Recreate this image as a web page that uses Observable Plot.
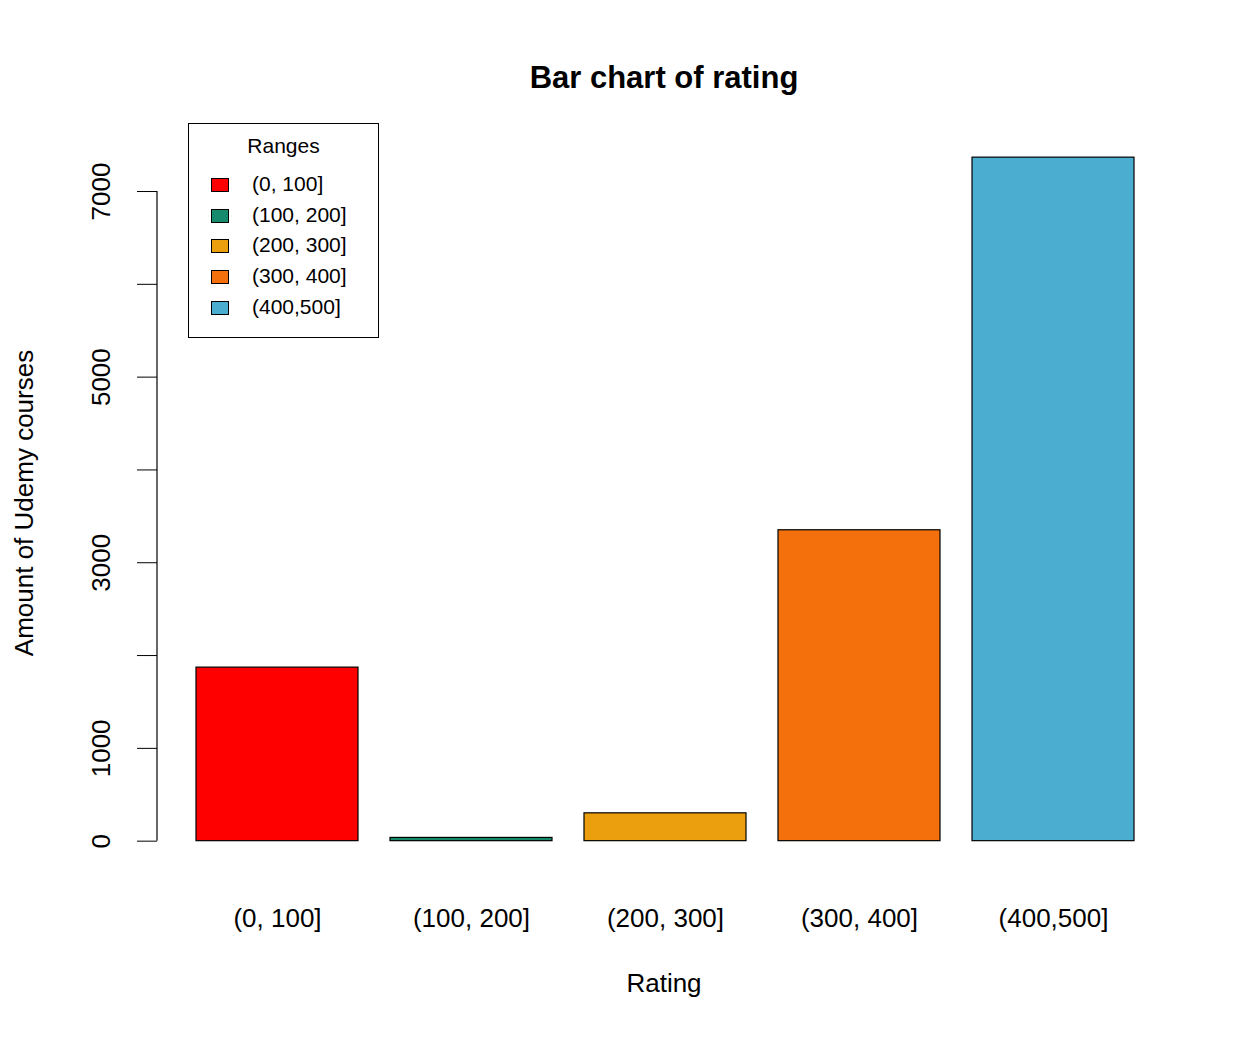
<!DOCTYPE html>
<html>
<head>
<meta charset="utf-8">
<script src="https://cdn.jsdelivr.net/npm/d3@7"></script>
<script src="https://cdn.jsdelivr.net/npm/@observablehq/plot@0.6"></script>
<style>
  body { margin: 0; background: #fff; font-family: "Liberation Sans", Arial, sans-serif; }
  #wrap { position: relative; width: 1252px; height: 1044px; }
  .abs { position: absolute; color: #000; }
  #legend { position: absolute; left: 188px; top: 123px; width: 191px; height: 215px; border: 1.3px solid #000; box-sizing: border-box; font-size: 21px; }
  #legend .t { position: absolute; left: 0; width: 100%; top: 10px; text-align: center; font-size: 21px; }
  #legend .sw { position: absolute; left: 22px; width: 18px; height: 14px; border: 1px solid #000; box-sizing: border-box; }
  #legend .lb { position: absolute; left: 63px; }
</style>
</head>
<body>
<div id="wrap">
  <div id="chart"></div>
  <div class="abs" style="left:0;width:1328px;top:60px;text-align:center;font-size:31px;font-weight:bold;">Bar chart of rating</div>
  <div class="abs" style="left:0;width:1328px;top:968px;text-align:center;font-size:26px;">Rating</div>
  <div class="abs" style="left:24px;top:503px;font-size:26px;transform:translate(-50%,-50%) rotate(-90deg);white-space:nowrap;">Amount of Udemy courses</div>
  <div id="legend"><div class="t">Ranges</div></div>
</div>
<script>
const ranges = ["(0, 100]", "(100, 200]", "(200, 300]", "(300, 400]", "(400,500]"];
const counts = [1870, 35, 300, 3350, 7365];
const colors = ["#fe0000", "#168a6c", "#eb9f0e", "#f3700c", "#4badcf"];
const yTicks = [0, 1000, 2000, 3000, 4000, 5000, 6000, 7000];
const yLabels = [0, 1000, 3000, 5000, 7000];

const bars = ranges.map((r, i) => ({ range: r, count: counts[i] }));

const plot = Plot.plot({
  width: 1252,
  height: 1044,
  marginLeft: 157,
  marginRight: 80,
  marginTop: 130,
  marginBottom: 176,
  style: { fontFamily: "Liberation Sans, Arial, sans-serif", fontSize: "26px", background: "#fff" },
  x: { domain: ranges, paddingInner: 1 / 6, paddingOuter: 0.193, label: null },
  y: { domain: [-294.5, 7657.5], label: null },
  color: { domain: ranges, range: colors },
  marks: [
    Plot.barY(bars, { x: "range", y: "count", fill: "range", stroke: "#000", strokeWidth: 1.2 }),
    Plot.axisX({ tickSize: 0, tickPadding: 40, fontSize: 26 }),
    Plot.axisY({
      ticks: yTicks,
      tickSize: 20,
      tickPadding: 28,
      tickRotate: -90,
      fontSize: 26,
      tickFormat: (d) => (yLabels.includes(d) ? String(d) : "")
    })
  ]
});
document.getElementById("chart").appendChild(plot);

// axis line from 0 to 7000 like R's axis()
const y = plot.scale("y");
d3.select(plot).append("line")
  .attr("x1", 157).attr("x2", 157)
  .attr("y1", y.apply(0)).attr("y2", y.apply(7000))
  .attr("stroke", "#000").attr("stroke-width", 1.2);

const legend = document.getElementById("legend");
ranges.forEach((r, i) => {
  const top = 54 + i * 30.7;
  const sw = document.createElement("div");
  sw.className = "sw";
  sw.style.top = top + "px";
  sw.style.background = colors[i];
  legend.appendChild(sw);
  const lb = document.createElement("div");
  lb.className = "lb";
  lb.style.top = (top - 6) + "px";
  lb.textContent = r;
  legend.appendChild(lb);
});
</script>
</body>
</html>
